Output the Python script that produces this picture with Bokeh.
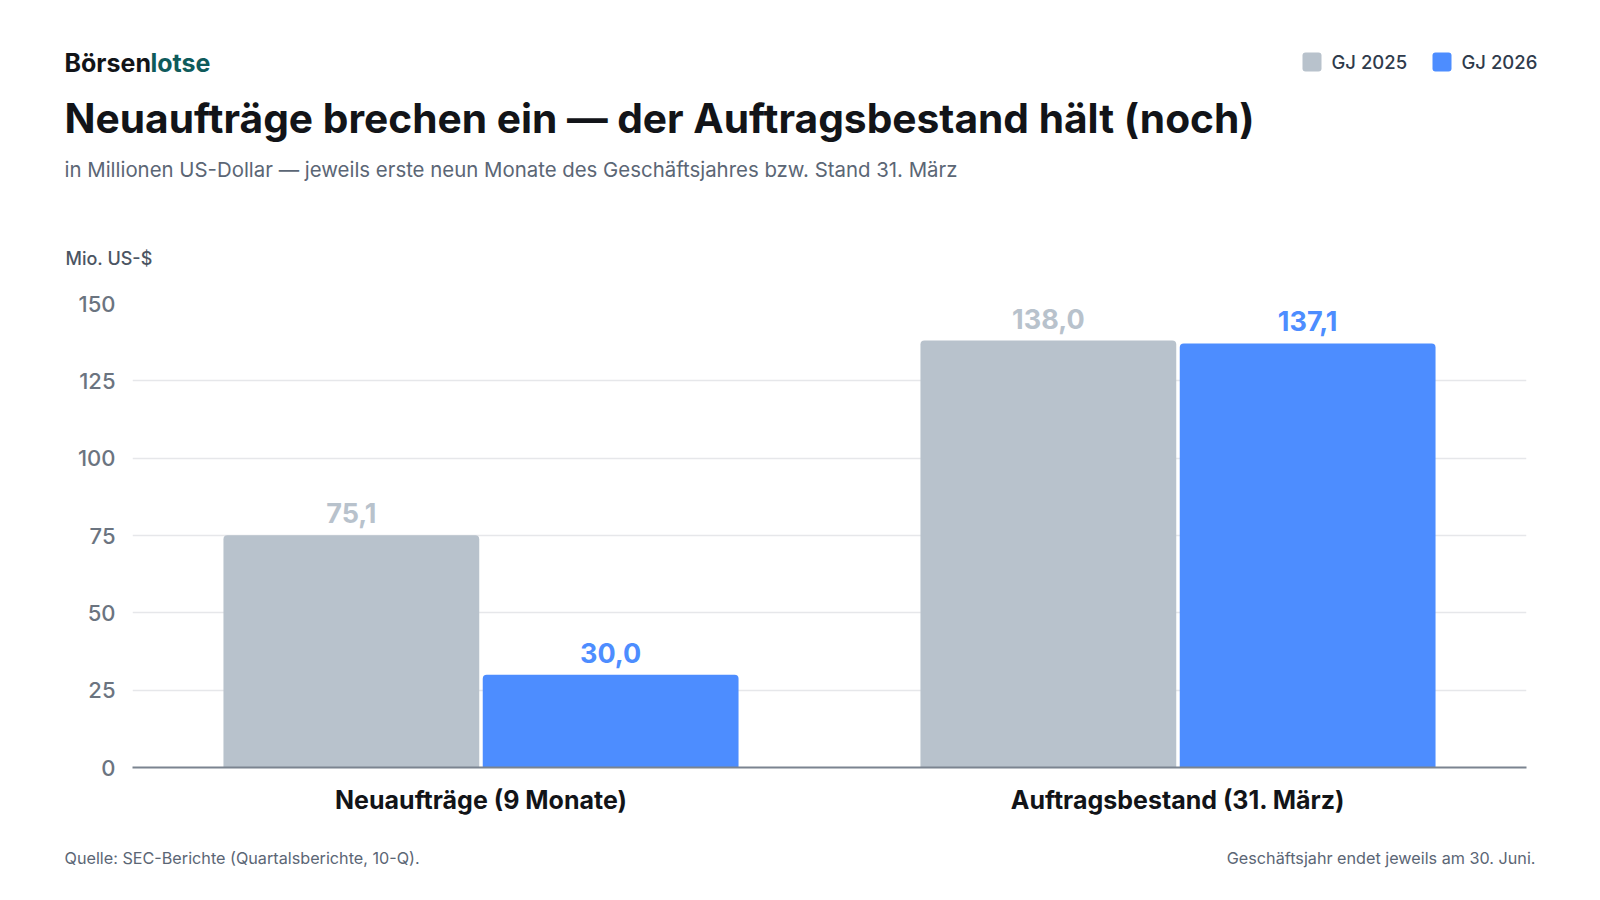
from bokeh.plotting import figure
from bokeh.layouts import column
from bokeh.models import ColumnDataSource, FactorRange, Range1d, FixedTicker
from bokeh.transform import dodge
from bokeh.embed import file_html
from bokeh.resources import INLINE
from bokeh.core.properties import value

# ---------------- data ----------------
categories = ["Neuaufträge (9 Monate)", "Auftragsbestand (31. März)"]
series = ["GJ 2025", "GJ 2026"]
gj2025 = [75.1, 138.0]
gj2026 = [30.0, 137.1]
y_ticks = [0, 25, 50, 75, 100, 125, 150]

brand_a = "Börsen"
brand_b = "lotse"
title_text = "Neuaufträge brechen ein — der Auftragsbestand hält (noch)"
subtitle_text = "in Millionen US-Dollar — jeweils erste neun Monate des Geschäftsjahres bzw. Stand 31. März"
unit_text = "Mio. US-$"
source_text = "Quelle: SEC-Berichte (Quartalsberichte, 10-Q)."
note_text = "Geschäftsjahr endet jeweils am 30. Juni."

# ---------------- style ----------------
FONT = "Inter"
FONT_MED = "'Inter Medium', Inter"
GRAY = "#b8c2cc"
BLUE = "#4d8dff"
SERIES_COLORS = [GRAY, BLUE]
INK = "#121418"
TEAL = "#0f5b5b"
MUTED = "#5b6675"

W = 1584
HEAD_H = 290
MAIN_TOP, MAIN_BOTTOM = 290, 830
FOOT_H = 884 - MAIN_BOTTOM
BASE_FIX = 0.35  # alphabetic baseline correction (fraction of font size)


def de(v):
    return f"{v:.1f}".replace(".", ",")


def blank(h):
    f = figure(width=W, height=h, x_range=Range1d(0, W), y_range=Range1d(h, 0),
               output_backend="svg", toolbar_location=None, min_border=0,
               x_axis_location=None, y_axis_location=None,
               background_fill_color="white", border_fill_color="white")
    f.outline_line_color = None
    f.grid.visible = False
    return f


def txt(f, x, y, text, size, color, bold=False, align="left", font=FONT):
    f.text(x=[x], y=[y - BASE_FIX * size], text=[text], text_font=value(font),
           text_font_size=f"{size}px",
           text_font_style="bold" if bold else "normal", text_color=color,
           text_align=align, text_baseline="alphabetic")


# ---------------- header ----------------
head = blank(HEAD_H)
txt(head, 64, 71.5, brand_a, 25, INK, bold=True)
txt(head, 150, 71.5, brand_b, 25, TEAL, bold=True)
txt(head, 64, 132, title_text, 40.7, INK, bold=True)
txt(head, 64, 176, subtitle_text, 20.4, MUTED)
txt(head, 65, 264, unit_text, 18, "#4b5563", font=FONT_MED)

leg_x = [1302, 1432]
head.rect(x=[x + 9.5 for x in leg_x], y=[61.5] * len(series), width=19, height=19,
          fill_color=SERIES_COLORS, line_color=None, border_radius=3)
head.text(x=[x + 29 for x in leg_x], y=[68 - BASE_FIX * 18.5] * len(series),
          text=series, text_font=value(FONT_MED), text_font_size="18.5px",
          text_color="#2f3b4c", text_align="left", text_baseline="alphabetic")

# ---------------- main chart ----------------
src = ColumnDataSource(dict(
    cat=categories, a=gj2025, b=gj2026,
    la=[de(v) for v in gj2025], lb=[de(v) for v in gj2026],
))

FRAME_L, FRAME_R, FRAME_T, FRAME_B = 132, 1526, 303, 767
p = figure(width=W, height=MAIN_BOTTOM - MAIN_TOP, x_range=FactorRange(*categories),
           y_range=Range1d(0, 150), output_backend="svg", toolbar_location=None,
           min_border_left=FRAME_L, min_border_right=W - FRAME_R,
           min_border_top=FRAME_T - MAIN_TOP, min_border_bottom=MAIN_BOTTOM - FRAME_B,
           background_fill_color="white", border_fill_color="white")
p.outline_line_color = None

OFF = 0.186
BW = 0.367
p.vbar(x=dodge("cat", -OFF, range=p.x_range), top="a", width=BW, source=src,
       fill_color=GRAY, line_color=None, border_radius=(4, 4, 0, 0))
p.vbar(x=dodge("cat", OFF, range=p.x_range), top="b", width=BW, source=src,
       fill_color=BLUE, line_color=None, border_radius=(4, 4, 0, 0))

p.text(x=dodge("cat", -OFF, range=p.x_range), y="a", text="la", source=src,
       y_offset=-22, text_align="center", text_baseline="alphabetic",
       text_font=value(FONT), text_font_style="bold", text_font_size="27px",
       text_color=GRAY)
p.text(x=dodge("cat", OFF, range=p.x_range), y="b", text="lb", source=src,
       y_offset=-22, text_align="center", text_baseline="alphabetic",
       text_font=value(FONT), text_font_style="bold", text_font_size="27px",
       text_color=BLUE)

p.xaxis.axis_line_color = "#7b8490"
p.xaxis.axis_line_width = 2
p.xaxis.major_tick_line_color = None
p.xaxis.minor_tick_line_color = None
p.xaxis.major_tick_out = 0
p.xaxis.major_tick_in = 0
p.xaxis.major_label_standoff = 17
p.xaxis.major_label_text_font = FONT
p.xaxis.major_label_text_font_size = "25px"
p.xaxis.major_label_text_font_style = "bold"
p.xaxis.major_label_text_color = INK

p.yaxis.ticker = FixedTicker(ticks=y_ticks)
p.yaxis.axis_line_color = None
p.yaxis.major_tick_line_color = None
p.yaxis.minor_tick_line_color = None
p.yaxis.major_tick_out = 0
p.yaxis.major_tick_in = 0
p.yaxis.major_label_standoff = 17
p.yaxis.major_label_text_font = FONT_MED
p.yaxis.major_label_text_font_size = "22px"
p.yaxis.major_label_text_color = "#6b7480"

p.xgrid.grid_line_color = None
p.ygrid.ticker = FixedTicker(ticks=y_ticks)
p.ygrid.grid_line_color = "#e6e7ea"
p.ygrid.grid_line_width = 1.5

# ---------------- footer ----------------
foot = blank(FOOT_H)
txt(foot, 64, 863 - MAIN_BOTTOM, source_text, 16.2, MUTED)
txt(foot, 1535, 863 - MAIN_BOTTOM, note_text, 16.2, MUTED, align="right")

layout = column(column(head), column(p), column(foot), spacing=0)
open("out.html", "w").write(file_html(layout, INLINE))
